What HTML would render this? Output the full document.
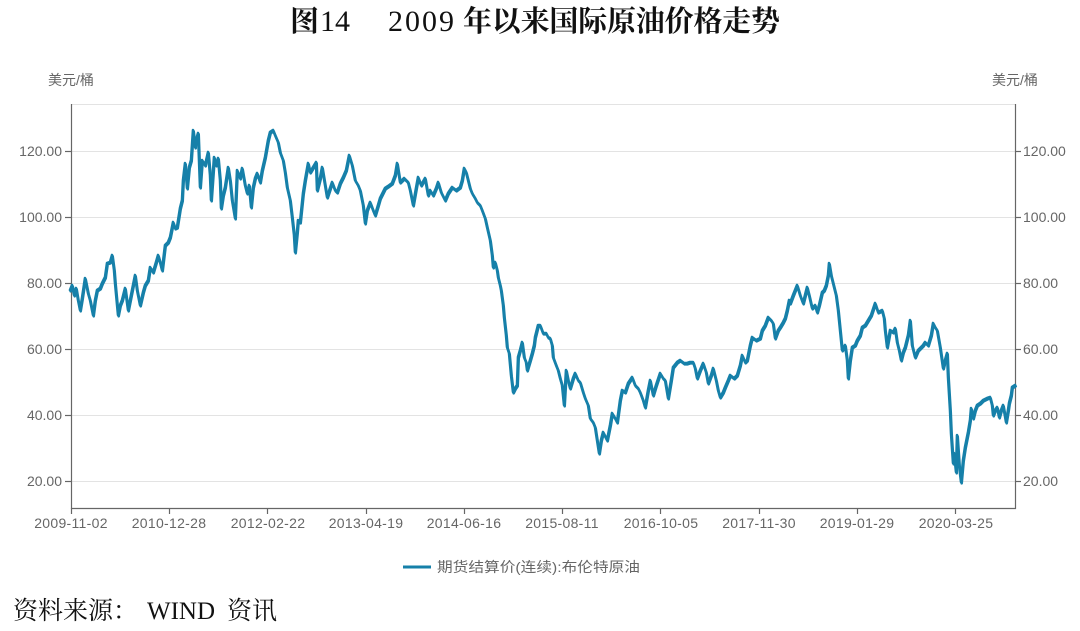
<!DOCTYPE html>
<html>
<head>
<meta charset="utf-8">
<style>
  html,body{margin:0;padding:0;background:#fff;}
  body{width:1080px;height:631px;overflow:hidden;}
  svg{display:block;}
  .ax{font-family:"Liberation Sans","Noto Sans CJK SC",sans-serif;font-size:14px;fill:#666;}
  .ttl{font-family:"Liberation Serif","Noto Serif CJK SC",serif;font-size:29px;fill:#111;font-weight:bold;}
  .ttn{font-family:"Liberation Serif","Noto Serif CJK SC",serif;font-size:30px;fill:#111;}
  .src{font-family:"Liberation Serif","Noto Serif CJK SC",serif;font-size:25px;fill:#111;}
</style>
</head>
<body>
<svg width="1080" height="631" viewBox="0 0 1080 631" xmlns="http://www.w3.org/2000/svg">
  <!-- Title -->
  <text class="ttl" x="290" y="31">图</text>
  <text class="ttn" x="320" y="31">14</text>
  <text class="ttn" x="388" y="31" letter-spacing="2">2009</text>
  <text class="ttl" x="463" y="31" textLength="317" lengthAdjust="spacing">年以来国际原油价格走势</text>

  <!-- unit labels -->
  <text class="ax" x="48" y="85" font-size="13">美元/桶</text>
  <text class="ax" x="992" y="85" font-size="13">美元/桶</text>

  <!-- gridlines -->
  <g stroke="#e3e3e3" stroke-width="1">
    <line x1="71" y1="104.5" x2="1015" y2="104.5"/>
    <line x1="71" y1="151.5" x2="1015" y2="151.5"/>
    <line x1="71" y1="217.5" x2="1015" y2="217.5"/>
    <line x1="71" y1="283.5" x2="1015" y2="283.5"/>
    <line x1="71" y1="349.5" x2="1015" y2="349.5"/>
    <line x1="71" y1="415.5" x2="1015" y2="415.5"/>
    <line x1="71" y1="481.5" x2="1015" y2="481.5"/>
  </g>

  <!-- axes -->
  <g stroke="#666" stroke-width="1.2">
    <line x1="71.5" y1="104" x2="71.5" y2="509"/>
    <line x1="1015.5" y1="104" x2="1015.5" y2="509"/>
    <line x1="71" y1="508.5" x2="1016" y2="508.5"/>
    <line x1="65" y1="151.5" x2="71" y2="151.5"/>
    <line x1="65" y1="217.5" x2="71" y2="217.5"/>
    <line x1="65" y1="283.5" x2="71" y2="283.5"/>
    <line x1="65" y1="349.5" x2="71" y2="349.5"/>
    <line x1="65" y1="415.5" x2="71" y2="415.5"/>
    <line x1="65" y1="481.5" x2="71" y2="481.5"/>
    <line x1="1015" y1="151.5" x2="1021" y2="151.5"/>
    <line x1="1015" y1="217.5" x2="1021" y2="217.5"/>
    <line x1="1015" y1="283.5" x2="1021" y2="283.5"/>
    <line x1="1015" y1="349.5" x2="1021" y2="349.5"/>
    <line x1="1015" y1="415.5" x2="1021" y2="415.5"/>
    <line x1="1015" y1="481.5" x2="1021" y2="481.5"/>
    <line x1="71.5" y1="508" x2="71.5" y2="514"/>
    <line x1="169.5" y1="508" x2="169.5" y2="514"/>
    <line x1="267.5" y1="508" x2="267.5" y2="514"/>
    <line x1="366.5" y1="508" x2="366.5" y2="514"/>
    <line x1="464.5" y1="508" x2="464.5" y2="514"/>
    <line x1="562.5" y1="508" x2="562.5" y2="514"/>
    <line x1="660.5" y1="508" x2="660.5" y2="514"/>
    <line x1="759.5" y1="508" x2="759.5" y2="514"/>
    <line x1="857.5" y1="508" x2="857.5" y2="514"/>
    <line x1="955.5" y1="508" x2="955.5" y2="514"/>
  </g>

  <!-- left y labels -->
  <g class="ax" text-anchor="end">
    <text x="62" y="156">120.00</text>
    <text x="62" y="222">100.00</text>
    <text x="62" y="288">80.00</text>
    <text x="62" y="354">60.00</text>
    <text x="62" y="420">40.00</text>
    <text x="62" y="486">20.00</text>
  </g>
  <!-- right y labels -->
  <g class="ax" text-anchor="start">
    <text x="1023" y="156">120.00</text>
    <text x="1023" y="222">100.00</text>
    <text x="1023" y="288">80.00</text>
    <text x="1023" y="354">60.00</text>
    <text x="1023" y="420">40.00</text>
    <text x="1023" y="486">20.00</text>
  </g>
  <!-- x labels -->
  <g class="ax" text-anchor="middle" letter-spacing="0.3">
    <text x="71" y="528">2009-11-02</text>
    <text x="169" y="528">2010-12-28</text>
    <text x="268" y="528">2012-02-22</text>
    <text x="366" y="528">2013-04-19</text>
    <text x="464" y="528">2014-06-16</text>
    <text x="562" y="528">2015-08-11</text>
    <text x="661" y="528">2016-10-05</text>
    <text x="759" y="528">2017-11-30</text>
    <text x="857" y="528">2019-01-29</text>
    <text x="956" y="528">2020-03-25</text>
  </g>

  <!-- series -->
  <g fill="none" stroke="#1680a9" stroke-linejoin="round" stroke-linecap="round">
  <polyline id="s" stroke-width="2.6" points="
70,290 72,285 74,295 76,288 78,300 80,310 82,298 85,278 88,293 90,300 93,315 95,300 97,290 100,288 102,283 105,277 107,263 110,262 112,255 114,270 115,283 118,315 120,305 122,300 125,288 128,310 131,295 135,275 137,290 140,305 143,292 145,285 148,280 150,267 153,272 156,262 158,255 160,262 162,270 165,245 168,242 170,237 173,222 175,228 177,227 180,208 182,200 183,180 185,163 187,188 189,167 191,160 193,130 195,147 196,140 198,133 200,187 202,160 205,165 208,152 210,175 211,200 214,157 216,165 218,158 220,180 221,208 223,195 225,187 228,167 230,180 232,200 235,218 237,170 240,178 242,168 245,185 247,193 249,185 251,207 253,187 255,178 257,173 260,182 262,170 265,157 268,140 270,132 273,130 275,135 278,142 280,152 283,160 285,172 287,187 290,200 292,217 294,235 295,252 297,232 298,220 300,222 303,193 305,180 308,163 310,172 313,167 316,162 317,190 320,178 322,167 325,185 327,197 330,188 332,182 335,190 337,192 340,183 343,177 346,170 349,155 352,165 355,180 358,185 360,190 363,205 365,223 367,210 370,202 373,210 375,215 378,205 380,198 383,192 385,188 388,186 392,183 395,175 397,163 400,182 404,178 408,182 410,190 413,205 416,188 418,177 421,185 425,178 428,195 430,190 433,195 436,188 438,182 441,192 445,200 448,193 452,187 456,190 460,187 462,180 464,168 466,172 468,180 470,188 472,193 475,198 477,202 480,205 482,210 485,218 487,227 490,240 492,255 493,267 495,262 497,270 498,277 500,285 501,290 503,305 504,317 506,335 507,347 509,353 511,375 513,392 515,388 517,385 518,357 520,350 522,342 524,357 526,362 527,370 530,360 532,353 534,345 535,337 538,325 540,325 543,333 546,333 548,337 550,338 552,345 553,357 556,365 558,370 560,378 562,385 564,405 566,370 568,380 570,388 573,378 575,373 578,380 580,382 583,392 585,398 588,405 590,418 593,422 595,427 597,440 599,453 601,440 603,432 605,436 607,440 610,425 612,413 615,418 617,422 620,400 622,390 625,392 628,383 632,377 635,385 638,388 640,392 643,400 645,407 648,390 650,380 653,395 656,385 660,373 663,378 665,380 668,398 671,380 673,367 677,362 680,360 684,363 687,363 690,362 693,362 695,368 697,378 700,370 703,363 706,372 708,383 711,375 713,368 716,380 718,390 720,397 723,392 725,387 728,380 730,375 734,378 737,375 740,365 742,355 745,362 747,360 750,345 752,337 756,340 760,338 762,330 765,325 768,317 771,320 773,323 775,338 778,330 780,327 783,322 785,318 787,310 789,300 790,303 793,295 797,285 800,295 803,303 805,295 807,287 809,295 812,308 815,305 817,312 819,305 822,292 824,290 826,285 828,275 829,263 831,275 833,283 836,295 838,310 840,330 842,350 845,345 847,360 848,378 850,360 852,347 855,345 857,340 860,335 862,327 865,325 868,320 871,315 875,303 878,312 882,310 884,318 885,330 887,347 890,330 893,332 895,328 897,342 899,350 901,360 903,352 905,347 908,335 910,320 912,345 915,357 918,350 920,348 923,345 925,342 928,345 931,335 933,323 935,327 937,330 940,347 943,368 945,360 947,353 948,377 950,410 951,433 953,463 954,453 956,472 957,435 959,465 961,482 963,460 965,447 968,432 970,420 971,408 973,418 975,410 977,405 980,403 983,400 987,398 990,397 992,405 993,415 995,410 997,407 999,417 1001,410 1003,405 1006,422 1008,410 1009,403 1011,395 1012,387 1015,385"/>
  <use href="#s" transform="translate(0.7,1.3)" stroke-width="1.6"/>
  </g>

  <!-- legend -->
  <line x1="403" y1="567" x2="431" y2="567" stroke="#1680a9" stroke-width="3"/>
  <text class="ax" x="437" y="572" font-size="15" fill="#555" textLength="203" lengthAdjust="spacingAndGlyphs">期货结算价(连续):布伦特原油</text>

  <!-- source -->
  <text class="src" x="13" y="619">资料来源：</text>
  <text class="src" x="147" y="619">WIND</text>
  <text class="src" x="227" y="619">资讯</text>
</svg>
</body>
</html>
